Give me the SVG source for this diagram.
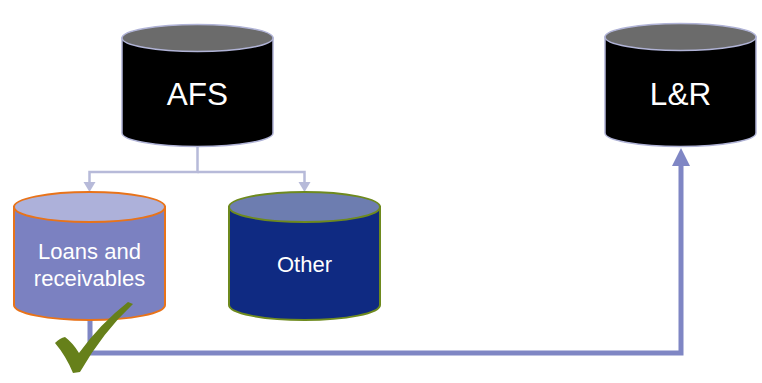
<svg xmlns="http://www.w3.org/2000/svg" width="762" height="383" viewBox="0 0 762 383">
<style>
text{font-family:"Liberation Sans",Arial,sans-serif;fill:#fff;text-anchor:middle}
.big{font-size:31.5px}
.med{font-size:22px}
.thin{fill:none;stroke:#B7BAD9;stroke-width:2.5}
.thick{fill:none;stroke:#7F86C4;stroke-width:5}
</style>
<rect width="762" height="383" fill="#fff"/>
<g id="connectors">
<polyline class="thin" points="197.5,147 197.5,172 89.5,172 89.5,184"/>
<polyline class="thin" points="197.5,172 304.5,172 304.5,184"/>
<polygon points="83.5,182 95.5,182 89.5,192" fill="#B7BAD9"/>
<polygon points="298.5,182 310.5,182 304.5,192" fill="#B7BAD9"/>
<polyline class="thick" points="90,320 90,353 681,353 681,164"/>
<polygon points="672,166 690,166 681,148" fill="#7F86C4"/>
</g>
<g id="afs">
<path d="M122,38 L122,133 A75.5,13.5 0 0 0 273,133 L273,38 Z" fill="#000" stroke="#B0B3D6" stroke-width="1.5"/>
<ellipse cx="197.5" cy="38" rx="75.5" ry="13.5" fill="#6B6B6B" stroke="#B0B3D6" stroke-width="1.5"/>
<text class="big" x="197.5" y="104.5">AFS</text>
</g>
<g id="lr">
<path d="M605,37 L605,133 A75.5,13.5 0 0 0 756,133 L756,37 Z" fill="#000" stroke="#B0B3D6" stroke-width="1.5"/>
<ellipse cx="680.5" cy="37" rx="75.5" ry="13.5" fill="#6B6B6B" stroke="#B0B3D6" stroke-width="1.5"/>
<text class="big" x="680.5" y="104.5">L&amp;R</text>
</g>
<g id="loans">
<path d="M14,207 L14,305 A75.5,15 0 0 0 165,305 L165,207 Z" fill="#7B81C1" stroke="#E8731A" stroke-width="2"/>
<ellipse cx="89.5" cy="207" rx="75.5" ry="15" fill="#ADB1DA" stroke="#E8731A" stroke-width="2"/>
<text class="med" x="89.5" y="259">Loans and</text>
<text class="med" x="89.5" y="286">receivables</text>
</g>
<g id="other">
<path d="M229,207 L229,305 A75.5,15 0 0 0 380,305 L380,207 Z" fill="#0F2A82" stroke="#6E8A1E" stroke-width="2"/>
<ellipse cx="304.5" cy="207" rx="75.5" ry="15" fill="#6D7DB0" stroke="#6E8A1E" stroke-width="2"/>
<text class="med" x="304.5" y="272">Other</text>
</g>
<g id="check">
<path d="M55,343 Q60,338 65,337 Q73,343 79,353 Q100,324 128,302 L133,304 Q103,332 80,372 L73,373 Q66,356 55,343 Z" fill="#66801A"/>
</g>
</svg>
